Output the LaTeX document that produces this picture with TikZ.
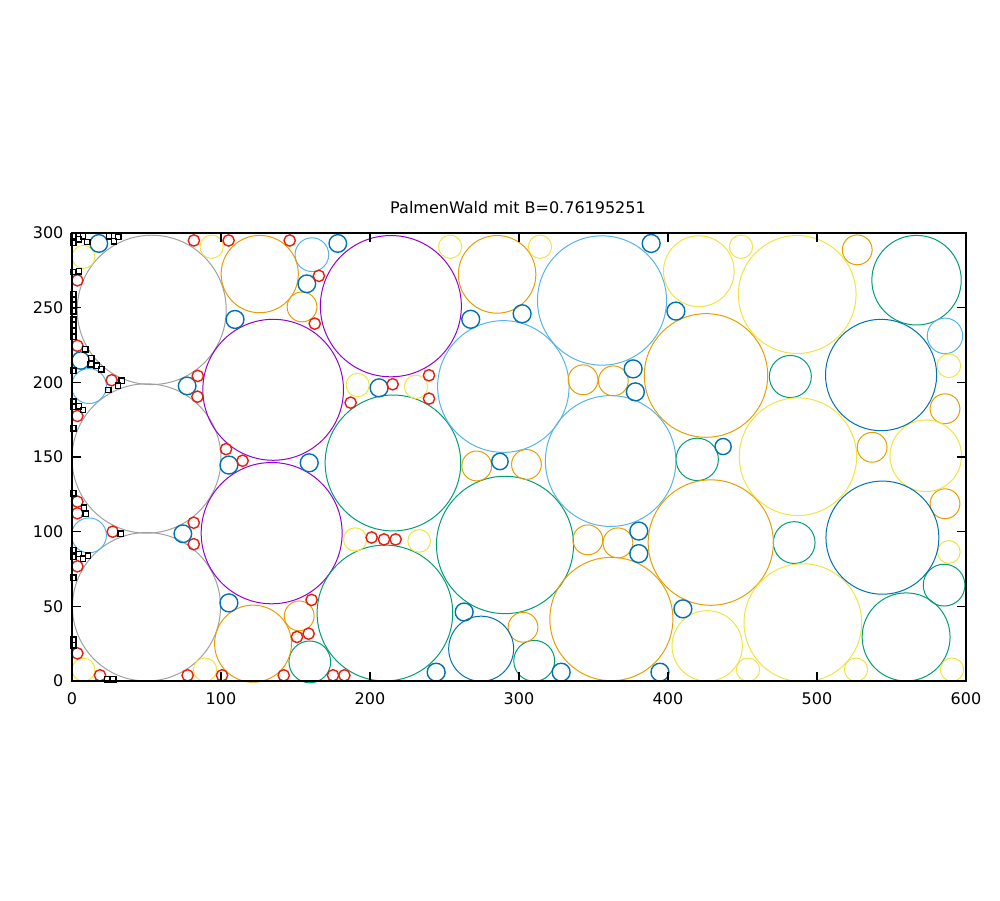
\documentclass[tikz,border=0pt]{standalone}
\usepackage{fontspec}
\setmainfont{DejaVu Sans}
\usetikzlibrary{positioning}

\definecolor{gpPurple}{HTML}{9400D3}
\definecolor{gpGreen}{HTML}{009E73}
\definecolor{gpSky}{HTML}{56B4E9}
\definecolor{gpOrange}{HTML}{E69F00}
\definecolor{gpYellow}{HTML}{F0E442}
\definecolor{gpBlue}{HTML}{0072B2}
\definecolor{gpRed}{HTML}{E51E10}
\definecolor{gpGray}{HTML}{A0A0A0}

\begin{document}
\begin{tikzpicture}[
  x=0.5pt,y=0.5pt,
  rim/.style={draw=#1,line width=0.5pt},
  smallrim/.style={draw=#1,line width=0.7pt},
  sq/.style={draw=black,line width=0.7pt},
  frame/.style={draw=black,line width=0.6pt},
  every node/.style={font=\fontsize{8}{9.6}\selectfont,inner sep=0pt}
]
\useasboundingbox (0,0) rectangle (1000,900);
\node (title) at (518,692) {PalmenWald mit B=0.76195251};

\begin{scope}[shift={(36pt,109.5pt)},x=0.745pt,y=0.74667pt]
% big ones
\foreach \x/\y/\r in {53.5/248.5/50, 50/149/50, 50/49.7/49.7}
  \draw[rim=gpGray] (\x,\y) circle (\r);
\foreach \x/\y/\r in {214/251/47.3, 135/195/47.2, 134/99/47.3}
  \draw[rim=gpPurple] (\x,\y) circle (\r);
\foreach \x/\y/\r in {215.4/146/45.5, 290.6/91.1/46, 210/45.5/45.5,
    566.8/268.4/30, 559.8/29.5/29.5,
    310.2/13.5/13.7, 482.1/203.9/14.1, 484.7/92.7/14, 585.3/64.2/14,
    419.6/148.4/14.2, 159.6/12.8/14}
  \draw[rim=gpGreen] (\x,\y) circle (\r);
\foreach \x/\y/\r in {289.5/197.2/44.1, 355.7/254.8/43.3, 361.5/147.3/43.8,
    161/285.5/11.3, 11.4/197.5/11.7, 11.4/97.5/11.7, 585.9/231.1/11.9}
  \draw[rim=gpSky] (\x,\y) circle (\r);
\foreach \x/\y/\r in {425.5/204.6/41.4, 428.7/92.7/42, 362/41.5/41.3,
    126/272.5/25.9, 285.3/272.3/26, 121.5/25/25.8,
    527/288.7/10, 585.9/182.3/10, 585.9/118.7/10, 537/156.5/10,
    343/201.7/10, 363.3/201/10, 346.2/94.5/10, 366.4/92.5/10,
    271.6/144/10, 305/145/10, 302.7/36/10, 154.4/250.5/10, 152.5/43.6/10}
  \draw[rim=gpOrange] (\x,\y) circle (\r);
\foreach \x/\y/\r in {486.7/258.8/39.5, 487.2/150.2/39.4, 490.5/39/39.5,
    420.7/274.4/23.7, 426.3/23.5/23.6, 573/150.8/24,
    93.7/290.8/7.8, 7.7/284/7.7, 191.7/198.2/7.8, 253.8/290.8/7.8,
    314.1/290.8/7.8, 230.9/197/7.8, 449/290.8/7.8, 588.5/211.1/7.9,
    588.5/86.4/7.6, 453.7/7.6/7.8, 526.2/7.6/7.8, 590.6/7.6/7.8,
    190/94.8/7.8, 89.3/7.6/7.8, 7.7/7.6/7.7, 233/93.8/7.6}
  \draw[rim=gpYellow] (\x,\y) circle (\r);
\foreach \x/\y/\r in {543/204.9/37.3, 543.9/96/37.9, 274.6/21.6/21.8}
  \draw[rim=gpBlue] (\x,\y) circle (\r);
\foreach \x/\y/\r in {18/293/5.9, 178.4/293/5.9, 157.6/266/5.9, 109.4/242.1/6,
    77.3/197.6/5.9, 5.8/214.6/5.8, 159.2/146.1/6, 105.3/144.6/6,
    74.4/98.6/5.9, 105.3/52.3/6, 267.6/242.2/6, 302.1/245.9/6,
    388.7/293/6, 206.1/196.3/6, 376.6/209/6, 378.1/193.6/6,
    405.3/247.7/6, 287.2/147/5.5, 437/157/5.4, 380.4/100.4/6,
    380.4/85.3/6, 263.2/46.2/6, 244.4/5.9/6, 328.3/5.9/6,
    394.6/5.9/6, 410/48.3/6}
  \draw[smallrim=gpBlue] (\x,\y) circle (\r);
\foreach \x/\y in {81.8/295, 105.1/295, 146.1/295, 165.7/271.3, 162.9/239.3,
    3.6/268.3, 3.6/224.5, 26.6/201.4, 84.4/204.3, 84.2/190.4, 187/186.4,
    3.6/177.5, 103.4/155.3, 114.5/147.5, 3.6/120.1, 3.6/112.3, 27.3/100,
    81.7/106, 81.7/91.6, 3.6/76.8, 3.6/18.5, 18.8/3.8, 77.6/3.8,
    100.7/3.8, 142.1/3.8, 160.8/54.3, 151/29.5, 158.8/31.7, 175.2/3.8,
    182.8/3.8, 201.1/96.1, 209.4/94.8, 217.2/94.8, 215.2/198.7,
    239.6/204.7, 239.6/189.1}
  \draw[smallrim=gpRed] (\x,\y) circle (3.8);
% tiny ones along the left edge
\foreach \x/\y in {0.9/297.8, 0.9/293.3, 4.7/295.9, 7.4/297.7, 10.3/293.9,
    24.8/297.8, 28.2/294.5, 31.1/297.3, 0.9/273.9, 4.7/274.3,
    0.9/259, 0.9/255.5, 0.9/251.5, 0.9/247.5, 0.9/242, 0.9/238.5,
    0.9/234.5, 0.9/230.5, 9/222, 13/216, 12.5/212, 16.6/211.2,
    19.7/208.6, 0.9/207.7, 33.3/201.1, 30.9/197.8, 24.4/194.9,
    0.9/187, 0.9/183.6, 4.7/184, 7.4/181.5, 0.9/169.2, 0.9/125.7,
    8.1/116.1, 9.2/112.1, 32.7/98.7, 0.9/87.7, 4.7/85, 0.9/83.2,
    7.4/82, 10.7/83.9, 0.9/69.2, 0.9/27.7, 0.9/23.9, 23.7/1.1, 27.7/1.1}
  \draw[sq] (\x-1.8,\y-1.8) rectangle ++(3.6,3.6);

% border, ticks, labels
\draw[frame] (0,0) rectangle (600,300);
\foreach \t in {0,100,...,600} {
  \draw[frame] (\t,0) -- ++(0,6);
  \draw[frame] (\t,300) -- ++(0,-6);
  \node (xl\t) at (\t,-11.6) {\t};
}
\foreach \t in {0,50,...,300} {
  \draw[frame] (0,\t) -- ++(6,0);
  \draw[frame] (600,\t) -- ++(-6,0);
  \node[anchor=east] (yl\t) at (-5.5,\t) {\t};
}
\end{scope}
\end{tikzpicture}
\end{document}
